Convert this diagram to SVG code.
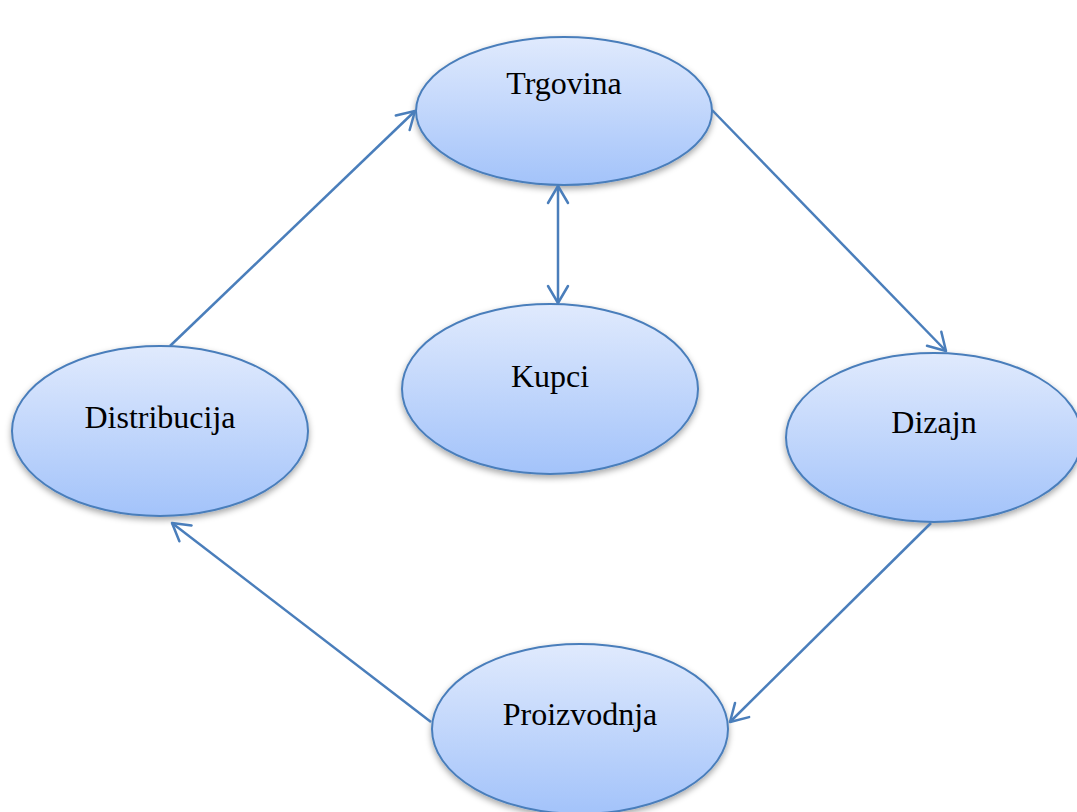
<svg xmlns="http://www.w3.org/2000/svg" width="1077" height="812" viewBox="0 0 1077 812">
<style>
.node ellipse{fill:url(#g);stroke:#4a7ebb;stroke-width:2;filter:url(#sh)}
.node text{font-family:"Liberation Serif","Times New Roman",serif;font-size:32px;fill:#000;text-anchor:middle}
.conn line{stroke:#4a7ebb;stroke-width:2.5;fill:none}
</style>
<defs>
<linearGradient id="g" x1="0" y1="0" x2="0" y2="1">
<stop offset="0" stop-color="#e0eafd"/>
<stop offset="1" stop-color="#a3c3fa"/>
</linearGradient>
<filter id="sh" x="-10%" y="-10%" width="120%" height="130%">
<feDropShadow dx="0" dy="3" stdDeviation="3" flood-color="#000" flood-opacity="0.35"/>
</filter>
<marker id="arr" markerUnits="userSpaceOnUse" viewBox="-20 -12 24 24" markerWidth="24" markerHeight="24" refX="0" refY="0" orient="auto-start-reverse">
<path d="M-17,-10 L0,0 L-17,10" fill="none" stroke="#4a7ebb" stroke-width="2.5" stroke-linecap="round" stroke-linejoin="round"/>
</marker>
</defs>
<rect width="1077" height="812" fill="#fff"/>
<g id="n-trgovina" class="node"><ellipse cx="564" cy="111" rx="148" ry="74"/><text x="564" y="94">Trgovina</text></g>
<g id="n-kupci" class="node"><ellipse cx="550" cy="389" rx="148" ry="85"/><text x="550" y="387">Kupci</text></g>
<g id="n-distribucija" class="node"><ellipse cx="160" cy="431" rx="148" ry="85"/><text x="160" y="428">Distribucija</text></g>
<g id="n-dizajn" class="node"><ellipse cx="934" cy="437.5" rx="148" ry="84.5"/><text x="934" y="433">Dizajn</text></g>
<g id="n-proizvodnja" class="node"><ellipse cx="580" cy="729" rx="148" ry="85"/><text x="580" y="725">Proizvodnja</text></g>
<g id="connectors" class="conn">
<line x1="170" y1="346" x2="415" y2="111" marker-end="url(#arr)"/>
<line x1="712" y1="110" x2="946" y2="351" marker-end="url(#arr)"/>
<line x1="558" y1="186" x2="558" y2="303" marker-start="url(#arr)" marker-end="url(#arr)"/>
<line x1="931" y1="523" x2="730" y2="722" marker-end="url(#arr)"/>
<line x1="431" y1="722" x2="172" y2="523" marker-end="url(#arr)"/>
</g>
</svg>
